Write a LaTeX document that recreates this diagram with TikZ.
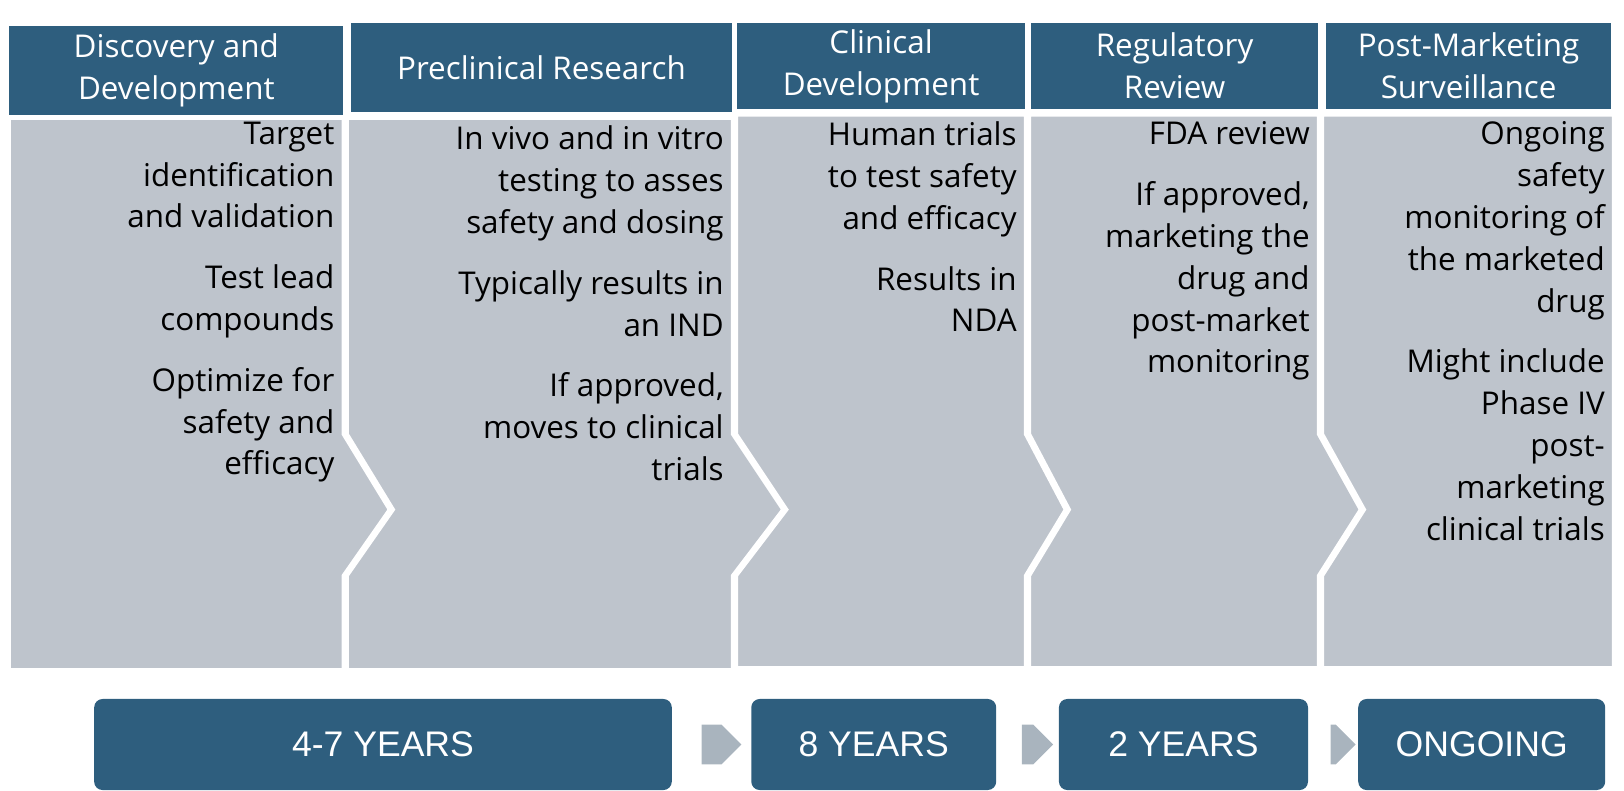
\documentclass[tikz,border=0pt]{standalone}
\usepackage{fontspec}
\setmainfont{Open Sans}
\newfontfamily\boxfont{Liberation Sans}
\usetikzlibrary{shapes.arrows,calc}
\definecolor{hdr}{RGB}{46,94,126}
\definecolor{bdy}{RGB}{190,196,204}
\definecolor{arr}{RGB}{169,180,190}
\begin{document}
\begin{tikzpicture}[x=1pt,y=1pt,
  hd/.style={fill=hdr,text=white,font=\fontsize{15}{20}\selectfont,align=center,inner sep=0pt},
  bd/.style={fill=bdy,draw=white,line width=1.5pt},
  bt/.style={anchor=north east,align=right,font=\fontsize{15}{20}\selectfont,inner sep=0pt},
  yb/.style={fill=hdr,text=white,rounded corners=4pt,font=\boxfont\fontsize{17}{20}\selectfont,minimum height=43.5pt},
  ar/.style={single arrow,fill=arr,minimum height=19pt,minimum width=19pt,single arrow head extend=0pt,inner sep=0pt,shape border uses incircle=false}]
\useasboundingbox (0,0) rectangle (776,-377.5);
% headers
\fill[hdr] (4.5,-12.5) rectangle (164,-55) node[midway,hd] (h1) {Discovery and\\Development};
\fill[hdr] (167.5,-11) rectangle (350,-53.5) node[midway,hd] (h2) {Preclinical Research};
\fill[hdr] (352,-11) rectangle (490,-52) node[midway,hd] (h3) {Clinical\\Development};
\fill[hdr] (492.5,-11) rectangle (630,-52) node[midway,hd] (h4) {Regulatory\\Review};
\fill[hdr] (633.5,-11) rectangle (770,-52) node[midway,hd] (h5) {Post-Marketing\\Surveillance};
% bodies
\path[bd] (4.5,-56.5) -- (164,-56.5) -- (164,-207.5) -- (186,-243.5) -- (164,-275) -- (164,-320) -- (4.5,-320) -- cycle;
\path[bd] (166,-56.5) -- (350,-56.5) -- (350,-207.5) -- (374,-243.5) -- (350,-275) -- (350,-320) -- (166,-320) -- (166,-275) -- (188,-243.5) -- (166,-207.5) -- cycle;
\path[bd] (352,-55) -- (490,-55) -- (490,-207.5) -- (509,-243.5) -- (490,-275) -- (490,-319) -- (352,-319) -- (352,-275) -- (376,-243.5) -- (352,-207.5) -- cycle;
\path[bd] (492,-55) -- (630,-55) -- (630,-207.5) -- (650,-243.5) -- (630,-275) -- (630,-319) -- (492,-319) -- (492,-275) -- (511,-243.5) -- (492,-207.5) -- cycle;
\path[bd] (632,-55) -- (771,-55) -- (771,-319) -- (632,-319) -- (632,-275) -- (652,-243.5) -- (632,-207.5) -- cycle;
% body texts
\node[bt] (t1) at (160,-58) {Target\\identification\\and validation\\[9pt]Test lead\\compounds\\[9pt]Optimize for\\safety and\\efficacy};
\node[bt] (t2) at (346,-60) {In vivo and in vitro\\testing to asses\\safety and dosing\\[9pt]Typically results in\\an IND\\[9pt]If approved,\\moves to clinical\\trials};
\node[bt] (t3) at (486,-58) {Human trials\\to test safety\\and efficacy\\[9pt]Results in\\NDA};
\node[bt] (t4) at (626,-58) {FDA review\\[9pt]If approved,\\marketing the\\drug and\\post-market\\monitoring};
\node[bt] (t5) at (767,-58) {Ongoing\\safety\\monitoring of\\the marketed\\drug\\[9pt]Might include\\Phase IV\\post-\\marketing\\clinical trials};
% year boxes
\node[yb,minimum width=276pt] (y1) at (183,-355.75) {4-7 YEARS};
\node[yb,minimum width=117pt] (y2) at (417.5,-355.75) {8 YEARS};
\node[yb,minimum width=119pt] (y3) at (565.5,-355.75) {2 YEARS};
\node[yb,minimum width=118pt] (y4) at (708,-355.75) {ONGOING};
\node[ar] (a1) at ($(y1.east)!0.5!(y2.west)$) {};
\node[ar,minimum height=15pt] (a2) at ($(y2.east)!0.5!(y3.west)$) {};
\node[ar,minimum height=12pt] (a3) at ($(y3.east)!0.5!(y4.west)$) {};
\end{tikzpicture}
\end{document}
